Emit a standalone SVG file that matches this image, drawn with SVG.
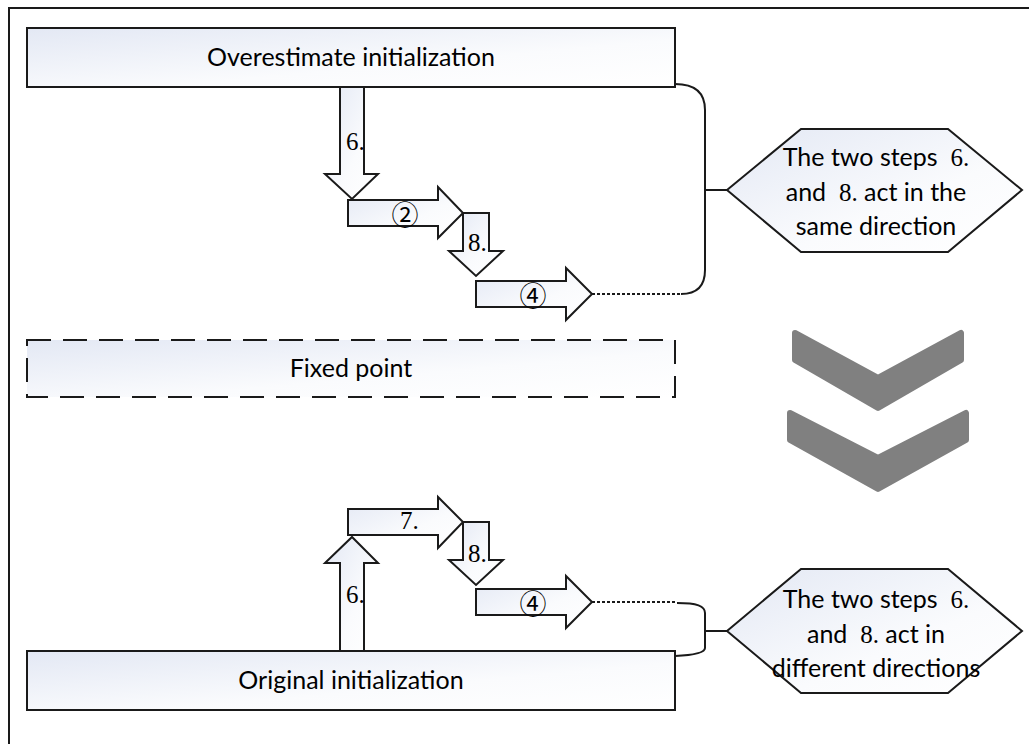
<svg xmlns="http://www.w3.org/2000/svg" width="1029" height="744" viewBox="0 0 1029 744">
<defs>
<linearGradient id="g" x1="0" y1="0" x2="1" y2="1">
<stop offset="0" stop-color="#e3e8f4"/>
<stop offset="0.6" stop-color="#fafbfd"/>
<stop offset="1" stop-color="#ffffff"/>
</linearGradient>
<style>
.box{fill:url(#g);stroke:#1a1a1a;stroke-width:2}
.dash{fill:url(#g);stroke:#1a1a1a;stroke-width:2;stroke-dasharray:24 12}
.arr{fill:url(#g);stroke:#1a1a1a;stroke-width:2;stroke-linejoin:miter}
.hex{fill:url(#g);stroke:#1a1a1a;stroke-width:2}
.lbl{font-family:Lato,"Liberation Sans",sans-serif;font-size:25px;fill:#000;text-anchor:middle}
.num{font-family:"Liberation Serif",serif;font-size:25px;fill:#000}
.circ{font-family:"Noto Sans CJK SC","DejaVu Sans",sans-serif;font-size:27px;fill:#000;text-anchor:middle;dominant-baseline:central}
.con{fill:none;stroke:#1a1a1a;stroke-width:2}
.dot{fill:none;stroke:#1a1a1a;stroke-width:2;stroke-dasharray:3 2}
.chev{fill:#808080;stroke:#808080;stroke-width:6;stroke-linejoin:round}
</style>
</defs>
<rect x="0" y="0" width="1029" height="744" fill="#ffffff"/>
<path d="M9,744 L9,8 L1029,8" fill="none" stroke="#1a1a1a" stroke-width="2"/>

<g id="connectors">
<path class="dot" d="M592,294 L682,294"/>
<path class="con" d="M675,84 Q705,84 705,110 L705,270 Q705,294 681,294"/>
<path class="con" d="M705,190 L727,190"/>
<path class="dot" d="M592,602 L677,602"/>
<path class="con" d="M677,603 C697,603 705,606 705,613 L705,648 C705,652 697,655 675,656"/>
<path class="con" d="M705,631 L727,631"/>
</g>

<g id="overestimate">
<rect class="box" x="27" y="28" width="648" height="59"/>
<text class="lbl" x="351" y="66">Overestimate initialization</text>
</g>

<g id="fixed-point">
<rect class="dash" x="27" y="340" width="648" height="57"/>
<text class="lbl" x="351" y="377">Fixed point</text>
</g>

<g id="original">
<rect class="box" x="27" y="651" width="648" height="59"/>
<text class="lbl" x="351" y="689">Original initialization</text>
</g>

<g id="top-arrows">
<polygon class="arr" points="340,87 364,87 364,174 378,174 352,199 325,174 340,174"/>
<text class="num" x="346" y="150">6.</text>
<polygon class="arr" points="348,200 438,200 438,187 463,213 438,238 438,226 348,226"/>
<text class="circ" x="405" y="213">②</text>
<polygon class="arr" points="463,213 489,213 489,251 503,251 476,276 449,251 463,251"/>
<text class="num" x="468" y="251">8.</text>
<polygon class="arr" points="476,281 566,281 566,268 592,294 566,320 566,307 476,307"/>
<text class="circ" x="533" y="294">④</text>
</g>

<g id="bottom-arrows">
<polygon class="arr" points="340,651 340,563 325,563 352,537 378,563 364,563 364,651"/>
<text class="num" x="346" y="603">6.</text>
<polygon class="arr" points="348,509 438,509 438,497 463,522 438,548 438,535 348,535"/>
<text class="num" x="400" y="529">7.</text>
<polygon class="arr" points="463,522 489,522 489,560 503,560 476,585 449,560 463,560"/>
<text class="num" x="468" y="562">8.</text>
<polygon class="arr" points="476,589 566,589 566,576 592,602 566,628 566,615 476,615"/>
<text class="circ" x="533" y="602">④</text>
</g>

<g id="same-direction">
<polygon class="hex" points="727,190 801,129 948,129 1022,190 948,252 801,252"/>
<text class="lbl" x="876" y="166" style="white-space:pre">The two steps  <tspan class="num">6.</tspan></text>
<text class="lbl" x="876" y="201" style="white-space:pre">and  <tspan class="num">8.</tspan> act in the</text>
<text class="lbl" x="876" y="235">same direction</text>
</g>

<g id="different-directions">
<polygon class="hex" points="727,631 801,569 948,569 1022,631 948,693 801,693"/>
<text class="lbl" x="876" y="608" style="white-space:pre">The two steps  <tspan class="num">6.</tspan></text>
<text class="lbl" x="876" y="643" style="white-space:pre">and  <tspan class="num">8.</tspan> act in</text>
<text class="lbl" x="876" y="677">different directions</text>
</g>

<g id="chevrons">
<polygon class="chev" points="795,333 878,378 961,333 961,360 878,408 795,360"/>
<polygon class="chev" points="790,413 878,458 966,413 966,440 878,489 790,440"/>
</g>
</svg>
